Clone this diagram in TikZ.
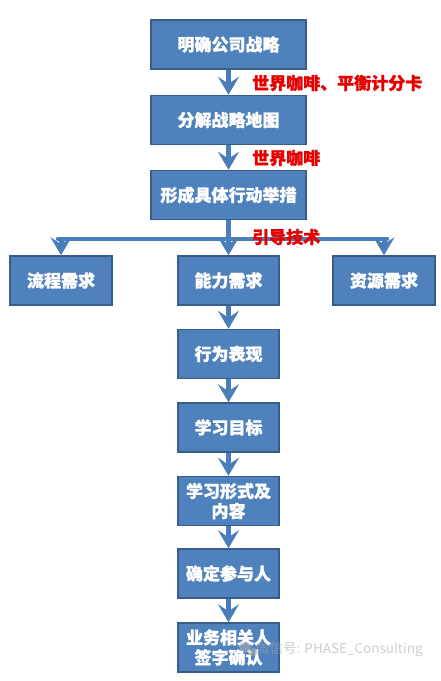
\documentclass[tikz,border=0pt]{standalone}
\usepackage{fontspec}
\newfontfamily\cjk{Noto Sans CJK SC}[BoldFeatures={FakeBold=1.2}]
\usetikzlibrary{arrows.meta}
\definecolor{boxfill}{RGB}{79,129,189}
\definecolor{boxedge}{RGB}{56,93,138}
\definecolor{arrowblue}{RGB}{74,126,187}
\definecolor{labelred}{RGB}{230,0,0}
\tikzset{
  stepbox/.style={draw=boxedge, fill=boxfill, line width=1.5pt, text=white,
    font=\cjk\bfseries\fontsize{17}{20}\selectfont, align=center,
    inner sep=0pt, minimum height=49pt},
  wide/.style={minimum width=155pt},
  narrow/.style={minimum width=101pt},
  flow/.style={draw=arrowblue, line width=5pt,
    -{Stealth[length=18pt,width=21pt,inset=7pt]}},
  plain/.style={draw=arrowblue, line width=4.5pt},
  redlabel/.style={text=labelred, font=\cjk\bfseries\fontsize{17}{20}\selectfont,
    anchor=west, inner sep=0pt},
}
\begin{document}
\begin{tikzpicture}[x=1pt,y=-1pt]
\useasboundingbox[fill=white] (0,0) rectangle (441,681);
% top column
\node[stepbox,wide] (b1) at (228.5,44.5) {明确公司战略};
\node[stepbox,wide] (b2) at (228.5,120) {分解战略地图};
\node[stepbox,wide] (b3) at (228.5,195) {形成具体行动举措};
% three needs
\node[stepbox,minimum width=102pt] (l) at (61,280.5) {流程需求};
\node[stepbox,narrow] (m) at (228.5,280.5) {能力需求};
\node[stepbox,minimum width=102pt] (r) at (384,280.5) {资源需求};
% lower column
\node[stepbox,narrow] (b4) at (228.5,354) {行为表现};
\node[stepbox,narrow] (b5) at (228.5,427.5) {学习目标};
\node[stepbox,narrow] (b6) at (228.5,501) {学习形式及\\内容};
\node[stepbox,narrow] (b7) at (228.5,573.5) {确定参与人};
\node[stepbox,narrow] (b8) at (228.5,647.5) {业务相关人\\签字确认};
% branch points
\coordinate (jc) at (228.5,239);
\coordinate (jl) at (61,239);
\coordinate (jr) at (384,239);
% connectors
\draw[flow] (b1) -- (b2);
\draw[flow] (b2) -- (b3);
\draw[plain] (b3.south) -- (jc);
\draw[plain, line cap=round] ([xshift=-3pt]jl) -- ([xshift=3pt]jr);
\draw[flow] (jl) -- (l);
\draw[flow] (jc) -- (m);
\draw[flow] (jr) -- (r);
\draw[flow] (m) -- (b4);
\draw[flow] (b4) -- (b5);
\draw[flow] (b5) -- (b6);
\draw[flow] (b6) -- (b7);
\draw[flow] (b7) -- (b8);
% red labels
\node[redlabel] (t1) at (252,83) {世界咖啡、平衡计分卡};
\node[redlabel] (t2) at (252,158) {世界咖啡};
\node[redlabel] (t3) at (252,237) {引导技术};
% watermark
\begin{scope}[opacity=0.55]
\fill[gray!60] (245,647) ellipse (6pt and 5pt);
\fill[gray!60] (253,652) ellipse (5pt and 4pt);
\node[text=gray!70, font=\cjk\fontsize{13.5}{15}\selectfont, anchor=west, inner sep=0pt]
  (wm) at (256,650) {微信号: PHASE\_Consulting};
\end{scope}
\end{tikzpicture}
\end{document}
